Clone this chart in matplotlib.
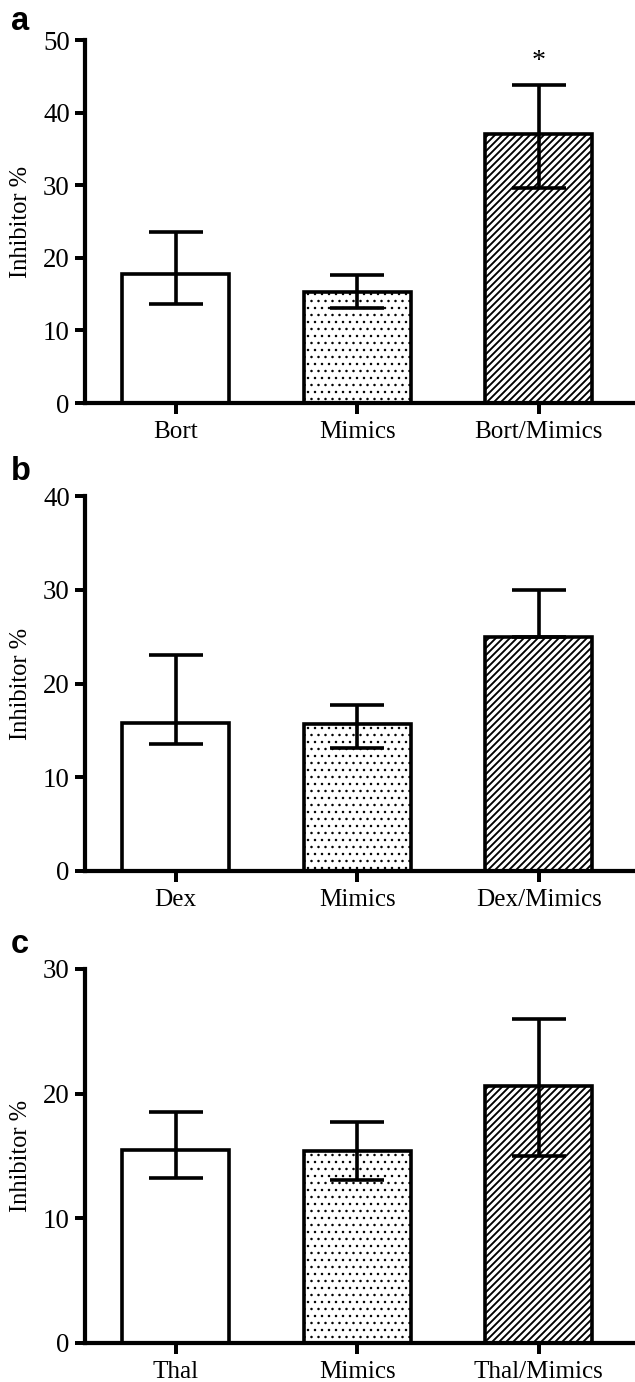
import numpy as np
import matplotlib
matplotlib.use('Agg')
import matplotlib.pyplot as plt

W, H, DPI = 635, 1382, 84

# ── data ──────────────────────────────────────────────────────────────────────
labels_a = ['Bort', 'Mimics', 'Bort/Mimics']
mean_a   = [17.8, 15.3, 37.05]
upper_a  = [23.5, 17.6, 43.8]
lower_a  = [13.6, 13.1, 29.6]

labels_b = ['Dex', 'Mimics', 'Dex/Mimics']
mean_b   = [15.8, 15.7, 25.0]
upper_b  = [23.0, 17.7, 30.0]
lower_b  = [13.6, 13.1, 25.0]

labels_c = ['Thal', 'Mimics', 'Thal/Mimics']
mean_c   = [15.5, 15.4, 20.6]
upper_c  = [18.5, 17.7, 26.0]
lower_c  = [13.2, 13.1, 15.0]

yticks_a = [0, 10, 20, 30, 40, 50]
yticks_b = [0, 10, 20, 30, 40]
yticks_c = [0, 10, 20, 30]

star_a = (2, 47.0)   # significance mark over Bort/Mimics

# ── styling ───────────────────────────────────────────────────────────────────
SERIF = 'Liberation Serif'
hatches = [None, '..', '////']
hatch_lw = [1.0, 0.9, 1.6]
LW = 3.1

fig = plt.figure(figsize=(W / DPI, H / DPI), dpi=DPI)
fig.patch.set_facecolor('white')


def px_axes(left, top, bottom, right=W):
    return fig.add_axes([left / W, 1 - bottom / H, (right - left) / W, (bottom - top) / H])


def panel(ax, letter, labels, mean, upper, lower, yticks, letter_xy):
    x = np.arange(len(labels))
    for i in range(len(labels)):
        with plt.rc_context({'hatch.linewidth': hatch_lw[i], 'hatch.color': 'black'}):
            bars = ax.bar(x[i], mean[i], width=0.59, color='white', edgecolor='black',
                          linewidth=LW, hatch=hatches[i], zorder=2)
        for b in bars:
            if hasattr(b, 'set_hatch_linewidth'):
                b.set_hatch_linewidth(hatch_lw[i])
    yerr = [np.array(mean) - np.array(lower), np.array(upper) - np.array(mean)]
    ax.errorbar(x, mean, yerr=yerr, fmt='none', ecolor='black', elinewidth=LW,
                capsize=23, capthick=LW, zorder=3)

    ax.set_xlim(-0.5, 2.53)
    ax.set_ylim(yticks[0], yticks[-1])
    ax.set_yticks(yticks)
    ax.set_xticks(x)
    ax.set_xticklabels(labels, fontfamily=SERIF, fontsize=21.5)
    for t in ax.get_yticklabels():
        t.set_fontfamily(SERIF)
        t.set_fontsize(23)
    ax.tick_params(axis='y', length=9, width=3.4, pad=4, direction='out')
    ax.tick_params(axis='x', length=9, width=3.4, pad=6, direction='out')
    for s in ['top', 'right']:
        ax.spines[s].set_visible(False)
    for s in ['left', 'bottom']:
        ax.spines[s].set_linewidth(3.6)
    ax.set_ylabel('Inhibitor %', fontfamily=SERIF, fontsize=21, va='center')
    ax.yaxis.set_label_coords(-0.117, 0.5)
    fig.text(letter_xy[0] / W, 1 - letter_xy[1] / H, letter, fontfamily='Liberation Sans',
             fontweight='bold', fontsize=28, ha='left', va='baseline')


ax_a = px_axes(85, 40, 403)
panel(ax_a, 'a', labels_a, mean_a, upper_a, lower_a, yticks_a, (11, 30))
ax_a.text(star_a[0], star_a[1], '*', ha='center', va='center', fontfamily=SERIF,
          fontsize=24)

ax_b = px_axes(85, 496, 871)
panel(ax_b, 'b', labels_b, mean_b, upper_b, lower_b, yticks_b, (11, 480))

ax_c = px_axes(85, 969, 1343)
panel(ax_c, 'c', labels_c, mean_c, upper_c, lower_c, yticks_c, (11, 953))

fig.savefig('out.png', dpi=DPI, facecolor='white')
plt.close(fig)
